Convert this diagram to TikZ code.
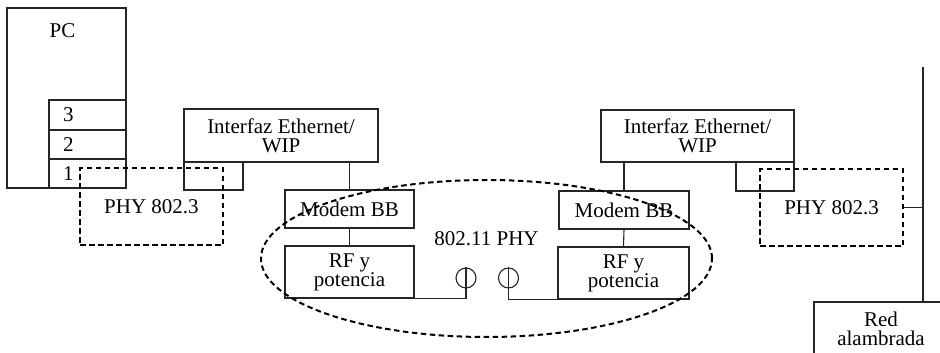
\documentclass[tikz,border=0pt]{standalone}
\usepackage{fontspec}
\setmainfont{Liberation Serif}
\usetikzlibrary{shapes.geometric}
\tikzset{
  txt/.style={font=\fontsize{21pt}{19pt}\selectfont, inner sep=0pt, align=center},
  box/.style={txt, draw=black!85, line width=1.1pt},
  dbox/.style={txt, draw=black, line width=2pt, dash pattern=on 5.5pt off 3.5pt},
  wire/.style={draw=black!85, line width=1.1pt},
  ant/.style={circle, draw=black!85, line width=1.1pt, minimum size=20pt, inner sep=0pt},
}
\begin{document}
\begin{tikzpicture}[x=1pt,y=-1pt]
\clip (0,0) rectangle (940,353);
% PC
\node[box, minimum width=119pt, minimum height=180pt] (pc) at (66.5,98) {};
\node[txt, anchor=base] (pct) at (62.5,38) {PC};
\node[box, minimum width=77pt, minimum height=30pt, text width=49pt, align=left] (s3) at (87.5,115) {3};
\node[box, minimum width=77pt, minimum height=29pt, text width=49pt, align=left] (s2) at (87.5,144.5) {2};
\node[box, minimum width=77pt, minimum height=29pt, text width=49pt, align=left] (s1) at (87.5,173.5) {1};
% left station
\node[box, minimum width=194pt, minimum height=53pt] (ifL) at (281,135.5) {Interfaz Ethernet/\\WIP};
\node[box, minimum width=59pt, minimum height=28pt] (portL) at (213.5,176) {};
\node[box, minimum width=129pt, minimum height=38pt] (modL) at (349.5,209) {Modem BB};
\node[box, minimum width=129pt, minimum height=52pt] (rfL) at (349.5,272) {RF y\\potencia};
\node[ant] (antL) at (466,278) {};
% right station
\node[box, minimum width=193pt, minimum height=52pt] (ifR) at (697.5,136) {Interfaz Ethernet/\\WIP};
\node[box, minimum width=58pt, minimum height=29pt] (portR) at (765,176.5) {};
\node[box, minimum width=130pt, minimum height=38pt] (modR) at (624,210) {Modem BB};
\node[box, minimum width=131pt, minimum height=52pt] (rfR) at (623.5,273) {RF y\\potencia};
\node[ant] (antR) at (508.5,278) {};
% wired network
\node[box, minimum width=134pt, minimum height=54pt] (red) at (881,329) {Red\\alambrada};
\coordinate (bus) at (923,67);
% PHY groups
\node[dbox, minimum width=143pt, minimum height=77pt] (phyL) at (151.5,206.5) {PHY 802.3};
\node[dbox, minimum width=143pt, minimum height=77pt] (phyR) at (831.5,207.5) {PHY 802.3};
\node[ellipse, draw=black, line width=2pt, dash pattern=on 5.5pt off 3.5pt, minimum width=451pt, minimum height=157pt, inner sep=0pt] (wphy) at (486.5,258.5) {};
\node[txt, anchor=base] (wphyt) at (486.5,245.5) {802.11 PHY};
% connectors
\draw[wire] (modL.north |- ifL.south) -- (modL.north);
\draw[wire] (modL.south) -- (rfL.north);
\draw[wire] (rfL.south east) -- (antL.center |- rfL.south east) -- (antL.north);
\draw[wire] (modR.north |- ifR.south) -- (modR.north);
\draw[wire] (modR.south) -- (rfR.north);
\draw[wire] (rfR.south west) -- (antR.center |- rfR.south west) -- (antR.north);
\draw[wire] (bus) -- (bus |- red.north);
\draw[wire] (phyR.east) -- (bus |- phyR.east);
\end{tikzpicture}
\end{document}
